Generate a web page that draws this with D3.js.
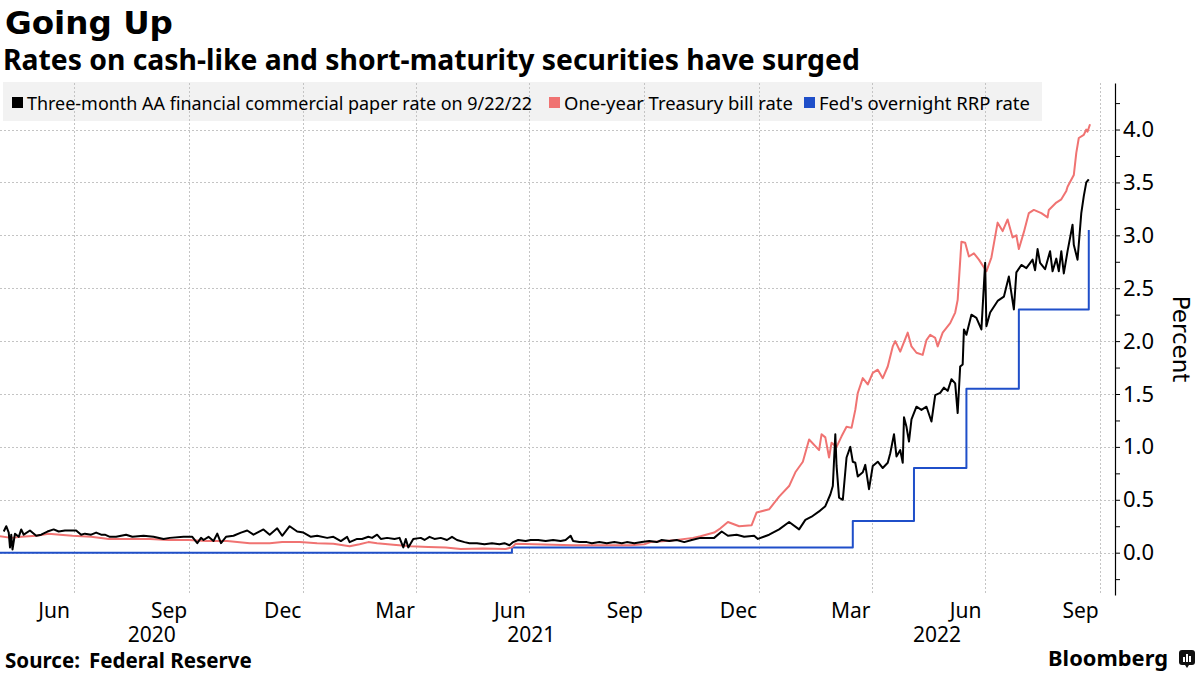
<!DOCTYPE html>
<html>
<head>
<meta charset="utf-8">
<script src="https://cdn.jsdelivr.net/npm/d3@7"></script>
<style>
  body { margin: 0; background: #fff; }
  svg { display: block; font-family: "Noto Sans", sans-serif; }
</style>
</head>
<body>
<svg id="chart" width="1200" height="675"></svg>
<script>
// Three-month AA financial commercial paper rate (black)
const paperRate = [
  ["2020-05-06", 0.20], ["2020-05-08", 0.25], ["2020-05-10", 0.19], ["2020-05-11", 0.05],
  ["2020-05-12", 0.17], ["2020-05-13", 0.03], ["2020-05-15", 0.18], ["2020-05-18", 0.15],
  ["2020-05-20", 0.22], ["2020-05-22", 0.17], ["2020-05-27", 0.21], ["2020-06-01", 0.16],
  ["2020-06-05", 0.17], ["2020-06-10", 0.20], ["2020-06-15", 0.22], ["2020-06-19", 0.20],
  ["2020-06-24", 0.21], ["2020-07-03", 0.21], ["2020-07-07", 0.17], ["2020-07-10", 0.18],
  ["2020-07-15", 0.17], ["2020-07-19", 0.19], ["2020-07-23", 0.17], ["2020-07-26", 0.17],
  ["2020-07-30", 0.15], ["2020-08-04", 0.15], ["2020-08-12", 0.17], ["2020-08-17", 0.15],
  ["2020-08-26", 0.16], ["2020-09-03", 0.15], ["2020-09-11", 0.13], ["2020-09-16", 0.14],
  ["2020-09-27", 0.15], ["2020-10-04", 0.15], ["2020-10-08", 0.09], ["2020-10-11", 0.14],
  ["2020-10-13", 0.12], ["2020-10-17", 0.15], ["2020-10-21", 0.11], ["2020-10-24", 0.18],
  ["2020-10-27", 0.09], ["2020-10-31", 0.15], ["2020-11-06", 0.16], ["2020-11-12", 0.19],
  ["2020-11-17", 0.21], ["2020-11-22", 0.17], ["2020-11-30", 0.22], ["2020-12-05", 0.17],
  ["2020-12-11", 0.23], ["2020-12-15", 0.16], ["2020-12-21", 0.25], ["2020-12-27", 0.20],
  ["2021-01-01", 0.19], ["2021-01-07", 0.15], ["2021-01-12", 0.16], ["2021-01-20", 0.14],
  ["2021-01-25", 0.15], ["2021-01-31", 0.11], ["2021-02-05", 0.15], ["2021-02-07", 0.10],
  ["2021-02-13", 0.13], ["2021-02-17", 0.13], ["2021-02-22", 0.15], ["2021-02-25", 0.14],
  ["2021-03-01", 0.17], ["2021-03-04", 0.13], ["2021-03-09", 0.14], ["2021-03-15", 0.13],
  ["2021-03-19", 0.14], ["2021-03-22", 0.05], ["2021-03-24", 0.13], ["2021-03-26", 0.05],
  ["2021-03-30", 0.13], ["2021-04-05", 0.14], ["2021-04-08", 0.12], ["2021-04-12", 0.15],
  ["2021-04-16", 0.13], ["2021-04-21", 0.14], ["2021-04-26", 0.12], ["2021-04-30", 0.15],
  ["2021-05-04", 0.12], ["2021-05-10", 0.10], ["2021-05-14", 0.09], ["2021-05-20", 0.09],
  ["2021-05-26", 0.08], ["2021-06-01", 0.09], ["2021-06-07", 0.08], ["2021-06-11", 0.09],
  ["2021-06-15", 0.07], ["2021-06-18", 0.10], ["2021-06-22", 0.12], ["2021-06-28", 0.11],
  ["2021-07-02", 0.12], ["2021-07-08", 0.12], ["2021-07-14", 0.11], ["2021-07-20", 0.12],
  ["2021-07-26", 0.11], ["2021-07-30", 0.12], ["2021-08-03", 0.16], ["2021-08-05", 0.11],
  ["2021-08-10", 0.10], ["2021-08-16", 0.10], ["2021-08-20", 0.09], ["2021-08-26", 0.10],
  ["2021-09-01", 0.09], ["2021-09-07", 0.10], ["2021-09-13", 0.09], ["2021-09-17", 0.10],
  ["2021-09-23", 0.09], ["2021-09-29", 0.10], ["2021-10-05", 0.11], ["2021-10-11", 0.10],
  ["2021-10-15", 0.12], ["2021-10-21", 0.11], ["2021-10-27", 0.12], ["2021-11-02", 0.10],
  ["2021-11-08", 0.12], ["2021-11-15", 0.14], ["2021-11-26", 0.14], ["2021-12-02", 0.20],
  ["2021-12-07", 0.16], ["2021-12-14", 0.17], ["2021-12-20", 0.15], ["2021-12-28", 0.16],
  ["2021-12-31", 0.13], ["2022-01-09", 0.17], ["2022-01-17", 0.22], ["2022-01-25", 0.29],
  ["2022-02-02", 0.22], ["2022-02-07", 0.31], ["2022-02-12", 0.34], ["2022-02-18", 0.39],
  ["2022-02-23", 0.44], ["2022-02-27", 0.55], ["2022-03-01", 0.63], ["2022-03-03", 1.12],
  ["2022-03-04", 0.82], ["2022-03-06", 0.52], ["2022-03-09", 0.50], ["2022-03-12", 0.90],
  ["2022-03-15", 1.00], ["2022-03-17", 0.86], ["2022-03-19", 0.85], ["2022-03-21", 0.72],
  ["2022-03-25", 0.76], ["2022-03-27", 0.83], ["2022-03-30", 0.60], ["2022-04-02", 0.82],
  ["2022-04-06", 0.86], ["2022-04-10", 0.80], ["2022-04-14", 0.85], ["2022-04-16", 0.94],
  ["2022-04-19", 1.12], ["2022-04-21", 0.91], ["2022-04-24", 0.97], ["2022-04-26", 0.85],
  ["2022-04-27", 1.28], ["2022-04-29", 1.19], ["2022-05-01", 1.05], ["2022-05-03", 1.26],
  ["2022-05-07", 1.38], ["2022-05-11", 1.35], ["2022-05-15", 1.38], ["2022-05-19", 1.24],
  ["2022-05-22", 1.49], ["2022-05-26", 1.51], ["2022-05-29", 1.56], ["2022-06-01", 1.53],
  ["2022-06-04", 1.64], ["2022-06-07", 1.60], ["2022-06-09", 1.32], ["2022-06-11", 1.76],
  ["2022-06-13", 1.78], ["2022-06-14", 2.11], ["2022-06-16", 2.06], ["2022-06-20", 2.25],
  ["2022-06-24", 2.22], ["2022-06-28", 2.11], ["2022-07-01", 2.74], ["2022-07-02", 2.14],
  ["2022-07-05", 2.27], ["2022-07-11", 2.38], ["2022-07-16", 2.42], ["2022-07-20", 2.61],
  ["2022-07-24", 2.30], ["2022-07-26", 2.65], ["2022-07-30", 2.72], ["2022-08-03", 2.69],
  ["2022-08-08", 2.77], ["2022-08-10", 2.67], ["2022-08-12", 2.87], ["2022-08-14", 2.74],
  ["2022-08-18", 2.68], ["2022-08-22", 2.85], ["2022-08-24", 2.66], ["2022-08-27", 2.78],
  ["2022-08-29", 2.66], ["2022-08-31", 2.85], ["2022-09-02", 2.64], ["2022-09-05", 2.85],
  ["2022-09-09", 3.10], ["2022-09-10", 2.91], ["2022-09-13", 2.77], ["2022-09-16", 3.21],
  ["2022-09-18", 3.37], ["2022-09-20", 3.50], ["2022-09-22", 3.53]
];

// One-year Treasury bill rate (pink)
const billRate = [
  ["2020-05-03", 0.155], ["2020-05-12", 0.14], ["2020-05-20", 0.15], ["2020-06-01", 0.16],
  ["2020-06-11", 0.18], ["2020-06-20", 0.17], ["2020-06-30", 0.16], ["2020-07-15", 0.15],
  ["2020-07-29", 0.13], ["2020-08-15", 0.13], ["2020-08-31", 0.13], ["2020-09-15", 0.12],
  ["2020-10-01", 0.12], ["2020-10-15", 0.11], ["2020-11-01", 0.11], ["2020-11-19", 0.09],
  ["2020-12-05", 0.09], ["2020-12-15", 0.10], ["2020-12-29", 0.10], ["2021-01-12", 0.09],
  ["2021-01-25", 0.085], ["2021-02-07", 0.06], ["2021-02-15", 0.08], ["2021-02-22", 0.10],
  ["2021-03-01", 0.09], ["2021-03-14", 0.076], ["2021-03-28", 0.06], ["2021-04-11", 0.054],
  ["2021-04-25", 0.05], ["2021-05-07", 0.035], ["2021-05-25", 0.04], ["2021-06-12", 0.035],
  ["2021-06-17", 0.05], ["2021-06-20", 0.085], ["2021-07-05", 0.08], ["2021-07-20", 0.075],
  ["2021-08-05", 0.07], ["2021-08-20", 0.07], ["2021-09-05", 0.07], ["2021-09-20", 0.07],
  ["2021-10-01", 0.08], ["2021-10-06", 0.10], ["2021-10-18", 0.11], ["2021-10-27", 0.12],
  ["2021-11-09", 0.14], ["2021-11-15", 0.155], ["2021-11-26", 0.19], ["2021-12-01", 0.23],
  ["2021-12-07", 0.29], ["2021-12-16", 0.25], ["2021-12-26", 0.26], ["2021-12-30", 0.38],
  ["2022-01-09", 0.41], ["2022-01-17", 0.53], ["2022-01-25", 0.63], ["2022-01-30", 0.76],
  ["2022-02-05", 0.86], ["2022-02-10", 1.07], ["2022-02-18", 0.97], ["2022-02-20", 1.12],
  ["2022-02-23", 1.09], ["2022-02-26", 0.90], ["2022-02-28", 1.04], ["2022-03-04", 1.00],
  ["2022-03-08", 1.10], ["2022-03-12", 1.19], ["2022-03-16", 1.18], ["2022-03-19", 1.35],
  ["2022-03-21", 1.51], ["2022-03-25", 1.65], ["2022-03-29", 1.59], ["2022-04-02", 1.70],
  ["2022-04-06", 1.73], ["2022-04-10", 1.65], ["2022-04-14", 1.76], ["2022-04-18", 1.95],
  ["2022-04-20", 2.00], ["2022-04-24", 1.90], ["2022-04-27", 1.99], ["2022-04-30", 2.08],
  ["2022-05-03", 1.95], ["2022-05-07", 1.89], ["2022-05-12", 1.87], ["2022-05-15", 2.01],
  ["2022-05-18", 2.06], ["2022-05-22", 2.03], ["2022-05-24", 1.95], ["2022-05-28", 2.08],
  ["2022-06-03", 2.17], ["2022-06-07", 2.27], ["2022-06-09", 2.39], ["2022-06-12", 2.94],
  ["2022-06-15", 2.93], ["2022-06-18", 2.80], ["2022-06-22", 2.83], ["2022-06-26", 2.77],
  ["2022-07-02", 2.66], ["2022-07-06", 2.79], ["2022-07-11", 3.12], ["2022-07-15", 3.04],
  ["2022-07-19", 3.15], ["2022-07-23", 2.98], ["2022-07-26", 3.00], ["2022-07-28", 2.87],
  ["2022-08-01", 3.03], ["2022-08-05", 3.21], ["2022-08-09", 3.24], ["2022-08-15", 3.21],
  ["2022-08-20", 3.17], ["2022-08-21", 3.24], ["2022-08-27", 3.31], ["2022-08-31", 3.34],
  ["2022-09-04", 3.42], ["2022-09-05", 3.46], ["2022-09-10", 3.57], ["2022-09-12", 3.78],
  ["2022-09-14", 3.92], ["2022-09-18", 3.95], ["2022-09-20", 4.00], ["2022-09-21", 3.98],
  ["2022-09-23", 4.05]
];

// Fed's overnight reverse repo rate (blue), value from each date onward
const rrpRate = [
  ["2020-05-03", 0.00], ["2021-06-17", 0.05], ["2022-03-17", 0.30], ["2022-05-05", 0.80],
  ["2022-06-16", 1.55], ["2022-07-28", 2.30], ["2022-09-22", 3.05]
];

const seriesNames = [
  "Three-month AA financial commercial paper rate on 9/22/22",
  "One-year Treasury bill rate",
  "Fed's overnight RRP rate"
];
const seriesColors = ["#000000", "#f07372", "#1f4fc9"];

const yMajorTicks = [0, 0.5, 1.0, 1.5, 2.0, 2.5, 3.0, 3.5, 4.0];
const yMinorTicks = [-0.25, 0.25, 0.75, 1.25, 1.75, 2.25, 2.75, 3.25, 3.75, 4.25];
const monthTicks = ["2020-06-15", "2020-09-15", "2020-12-15", "2021-03-15", "2021-06-15",
  "2021-09-15", "2021-12-15", "2022-03-15", "2022-06-15", "2022-09-15"];
const yearLabels = ["2020", "2021", "2022"];

const parse = d3.timeParse("%Y-%m-%d");
const toPoints = arr => arr.map(([d, v]) => ({ date: parse(d), value: v }));

const svg = d3.select("#chart");
const plotLeft = 0, plotRight = 1115, plotTop = 83, plotBottom = 595;

const x = d3.scaleTime()
  .domain([parse("2020-05-03"), parse("2022-10-13")])
  .range([plotLeft, plotRight]);
const y = d3.scaleLinear().domain([-0.4, 4.44]).range([plotBottom, plotTop]);

function fitWidth(sel, w) {
  const len = sel.node().getComputedTextLength();
  const fs = parseFloat(sel.attr("font-size"));
  sel.attr("font-size", (fs * w / len).toFixed(2));
}

// titles
const title = svg.append("text").attr("x", 5).attr("y", 34)
  .attr("font-family", "DejaVu Sans").attr("font-size", 33).attr("font-weight", 700)
  .text("Going Up");
fitWidth(title, 168);
const subtitle = svg.append("text").attr("x", 3).attr("y", 70)
  .attr("font-size", 25).attr("font-weight", 700)
  .text("Rates on cash-like and short-maturity securities have surged");
fitWidth(subtitle, 857);

// legend background
svg.append("rect").attr("x", 3).attr("y", 82).attr("width", 1039).attr("height", 39)
  .attr("fill", "#f2f2f2");

// gridlines
const grid = svg.append("g").attr("stroke", "#c4c4c4").attr("stroke-dasharray", "2,2");
grid.selectAll("line.h").data(yMajorTicks).join("line").attr("class", "h")
  .attr("x1", plotLeft).attr("x2", plotRight)
  .attr("y1", d => Math.round(y(d)) + 0.5).attr("y2", d => Math.round(y(d)) + 0.5);
grid.selectAll("line.v").data(x.ticks(d3.timeMonth.every(3))).join("line").attr("class", "v")
  .attr("x1", d => Math.round(x(d)) + 0.5).attr("x2", d => Math.round(x(d)) + 0.5)
  .attr("y1", plotTop).attr("y2", plotBottom);

// legend
const legendX = [12, 549, 804];
const legend = svg.append("g");
seriesNames.forEach((name, i) => {
  legend.append("rect").attr("x", legendX[i]).attr("y", 97).attr("width", 11).attr("height", 11)
    .attr("fill", seriesColors[i]);
  const t = legend.append("text").attr("x", legendX[i] + 15).attr("y", 110)
    .attr("font-size", 17).attr("fill", "#000").text(name);
  fitWidth(t, [505, 229, 211][i]);
});

// lines
const line = d3.line().x(d => x(d.date)).y(d => y(d.value));
const lines = svg.append("g").attr("fill", "none").attr("stroke-linejoin", "round");
lines.append("path").datum(toPoints(rrpRate))
  .attr("stroke", seriesColors[2]).attr("stroke-width", 2)
  .attr("d", d3.line().curve(d3.curveStepAfter).x(d => x(d.date)).y(d => y(d.value)));
lines.append("path").datum(toPoints(billRate))
  .attr("stroke", seriesColors[1]).attr("stroke-width", 2).attr("d", line);
lines.append("path").datum(toPoints(paperRate))
  .attr("stroke", seriesColors[0]).attr("stroke-width", 2).attr("d", line);

// right axis
const yAxis = svg.append("g").attr("transform", `translate(${plotRight},0)`)
  .call(d3.axisRight(y).tickValues(yMajorTicks).tickFormat(d3.format(".1f"))
    .tickSize(5).tickSizeOuter(0).tickPadding(3));
yAxis.select(".domain").attr("stroke", "#000").attr("stroke-width", 1.2);
yAxis.selectAll(".tick line").attr("stroke", "#000");
yAxis.selectAll("text").attr("font-size", 22).attr("font-family", "Noto Sans").attr("fill", "#000");
svg.append("g").attr("transform", `translate(${plotRight},0)`)
  .call(d3.axisRight(y).tickValues(yMinorTicks).tickFormat("").tickSize(5).tickSizeOuter(0))
  .call(g => g.select(".domain").remove())
  .selectAll(".tick line").attr("stroke", "#000");

svg.append("text").attr("transform", "translate(1173,339) rotate(90)")
  .attr("text-anchor", "middle").attr("font-family", "DejaVu Sans").attr("font-size", 23)
  .text("Percent");

// bottom axis labels
const xAxis = svg.append("g").attr("transform", `translate(0,${plotBottom})`)
  .call(d3.axisBottom(x).tickValues(monthTicks.map(parse))
    .tickFormat(d3.timeFormat("%b")).tickSize(0).tickPadding(8));
xAxis.select(".domain").remove();
xAxis.selectAll("text").attr("font-size", 21).attr("font-family", "Noto Sans").attr("fill", "#000");

svg.append("g").selectAll("text").data(yearLabels).join("text")
  .attr("x", d => {
    const a = Math.max(x(new Date(+d, 0, 1)), plotLeft);
    const b = Math.min(x(new Date(+d + 1, 0, 1)), plotRight);
    return (a + b) / 2;
  })
  .attr("y", 642).attr("text-anchor", "middle").attr("font-size", 21).text(d => d);

// footer
const source = svg.append("text").attr("x", 5).attr("y", 668)
  .attr("font-size", 17).attr("font-weight", 700);
source.append("tspan").text("Source:");
source.append("tspan").attr("dx", 9).text("Federal Reserve");
fitWidth(source, 238);

const brand = svg.append("text").attr("x", 1168).attr("y", 666).attr("text-anchor", "end")
  .attr("font-size", 22).attr("font-weight", 700).text("Bloomberg");
fitWidth(brand, 120);
const icon = svg.append("g").attr("transform", "translate(1179,650)");
icon.append("rect").attr("width", 16).attr("height", 15).attr("rx", 3).attr("fill", "#111");
icon.append("path").attr("d", "M6,15 L8,18 L10,15 Z").attr("fill", "#111");
[[4, 7], [7, 4], [10, 6]].forEach(([bx, by]) => {
  icon.append("rect").attr("x", bx).attr("y", by).attr("width", 2).attr("height", 12 - by)
    .attr("fill", "#fff");
});
</script>
</body>
</html>
